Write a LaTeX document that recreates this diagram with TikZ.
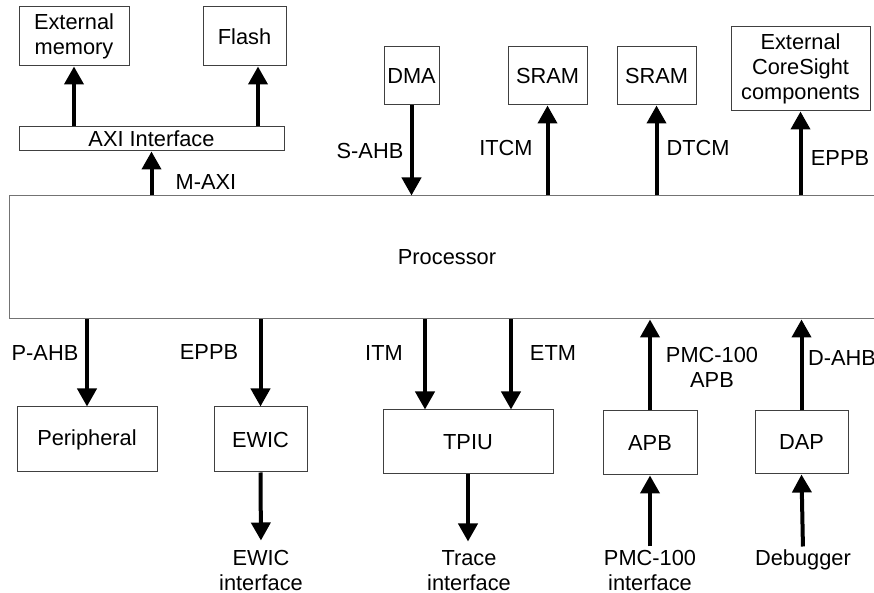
\documentclass[tikz,border=0pt]{standalone}
\usepackage{fontspec}
\setmainfont{Liberation Sans}
\usepackage{tikz}
\usetikzlibrary{arrows.meta,positioning,calc}
\tikzset{
  every node/.style={font=\fontsize{10.9}{12.5}\selectfont},
  block/.style={draw=black!75, line width=0.5pt, rectangle, align=center, inner sep=0pt},
  boxsize/.style 2 args={minimum width=#1*0.5pt, minimum height=#2*0.5pt},
  arrow/.style={-{Triangle[length=9pt,width=9.5pt]}, line width=2pt},
  lbl/.style={align=center, inner sep=0pt},
  iflabel/.style={align=center, inner sep=0pt, anchor=north}
}

\begin{document}
\begin{tikzpicture}[x=0.5pt, y=-0.5pt]
\useasboundingbox (0,0) rectangle (874,593);

% 1. Processor in the middle
\node[block, draw=black!55, boxsize={876}{123}] (proc) at (447,257.5) {Processor};

% 2. Top row
\node[block, boxsize={110}{59}] (extmem) at (74,36.5) {External\\memory};
\node[block, boxsize={83}{59}] (flash) at (244.5,36.5) {Flash};
\node[block, boxsize={265}{24}] (axi) at (151.5,139) {AXI Interface};
\node[block, boxsize={55}{58}] (dma) at (411.5,76) {DMA};
\node[block, boxsize={79}{58}] (isram) at (547.5,76) {SRAM};
\node[block, boxsize={79}{58}] (dsram) at (656.5,76) {SRAM};
\node[block, boxsize={139}{84}] (coresight) at (800.5,69) {External\\CoreSight\\components};

% 3. Bottom row
\node[block, boxsize={140}{65}] (periph) at (87,439.5) {Peripheral};
\node[block, boxsize={93}{65}] (ewic) at (260.5,439.5) {EWIC};
\node[block, boxsize={170}{64}] (tpiu) at (468,442) {TPIU};
\node[block, boxsize={94}{64}] (apb) at (650,443) {APB};
\node[block, boxsize={93}{63}] (dap) at (801.5,442.5) {DAP};

% 4. Outside interfaces
\node[iflabel] (ewicif) at (261,549.5) {EWIC\\interface};
\node[iflabel] (traceif) at (469,550.5) {Trace\\interface};
\node[iflabel] (pmcif) at (650,549.5) {PMC-100\\interface};
\node[iflabel] (debugger) at (803,549.5) {Debugger};

% 5. Bus labels
\node[lbl] (maxi) at (206,182) {M-AXI};
\node[lbl] (sahb) at (370,151) {S-AHB};
\node[lbl] (itcm) at (506,148) {ITCM};
\node[lbl] (dtcm) at (698,148) {DTCM};
\node[lbl] (eppbtop) at (840,158) {EPPB};
\node[lbl] (pahb) at (45,353) {P-AHB};
\node[lbl] (eppbbot) at (209,352) {EPPB};
\node[lbl] (itm) at (384,353) {ITM};
\node[lbl] (etm) at (553,353) {ETM};
\node[lbl] (pmcapb) at (712,367) {PMC-100\\APB};
\node[lbl] (dahb) at (842,358) {D-AHB};

% 6. Connections
\draw[arrow] (axi.north -| extmem) -- (extmem.south);
\draw[arrow] ([xshift=6.75pt]flash.south |- axi.north) -- ([xshift=6.75pt]flash.south);
\draw[arrow] (proc.north -| axi) -- (axi.south);
\draw[arrow] (dma.south) -- (proc.north -| dma);
\draw[arrow] (proc.north -| isram) -- (isram.south);
\draw[arrow] (proc.north -| dsram) -- (dsram.south);
\draw[arrow] (proc.north -| coresight) -- (coresight.south);

\draw[arrow] (proc.south -| periph) -- (periph.north);
\draw[arrow] (proc.south -| ewic) -- (ewic.north);
\draw[arrow] ([xshift=-21.5pt]tpiu.north |- proc.south) -- ([xshift=-21.5pt]tpiu.north);
\draw[arrow] ([xshift=21.5pt]tpiu.north |- proc.south) -- ([xshift=21.5pt]tpiu.north);
\draw[arrow] (apb.north) -- (proc.south -| apb);
\draw[arrow] (dap.north) -- (proc.south -| dap);

\draw[arrow, shorten >=4.5pt] (ewic.south) -- (ewicif.north);
\draw[arrow, shorten >=4.5pt] (tpiu.south) -- (tpiu.south |- traceif.north);
\draw[arrow, shorten <=1.5pt] (pmcif.north) -- (apb.south);
\draw[arrow, shorten <=1.5pt] (debugger.north) -- (dap.south);

\end{tikzpicture}
\end{document}
